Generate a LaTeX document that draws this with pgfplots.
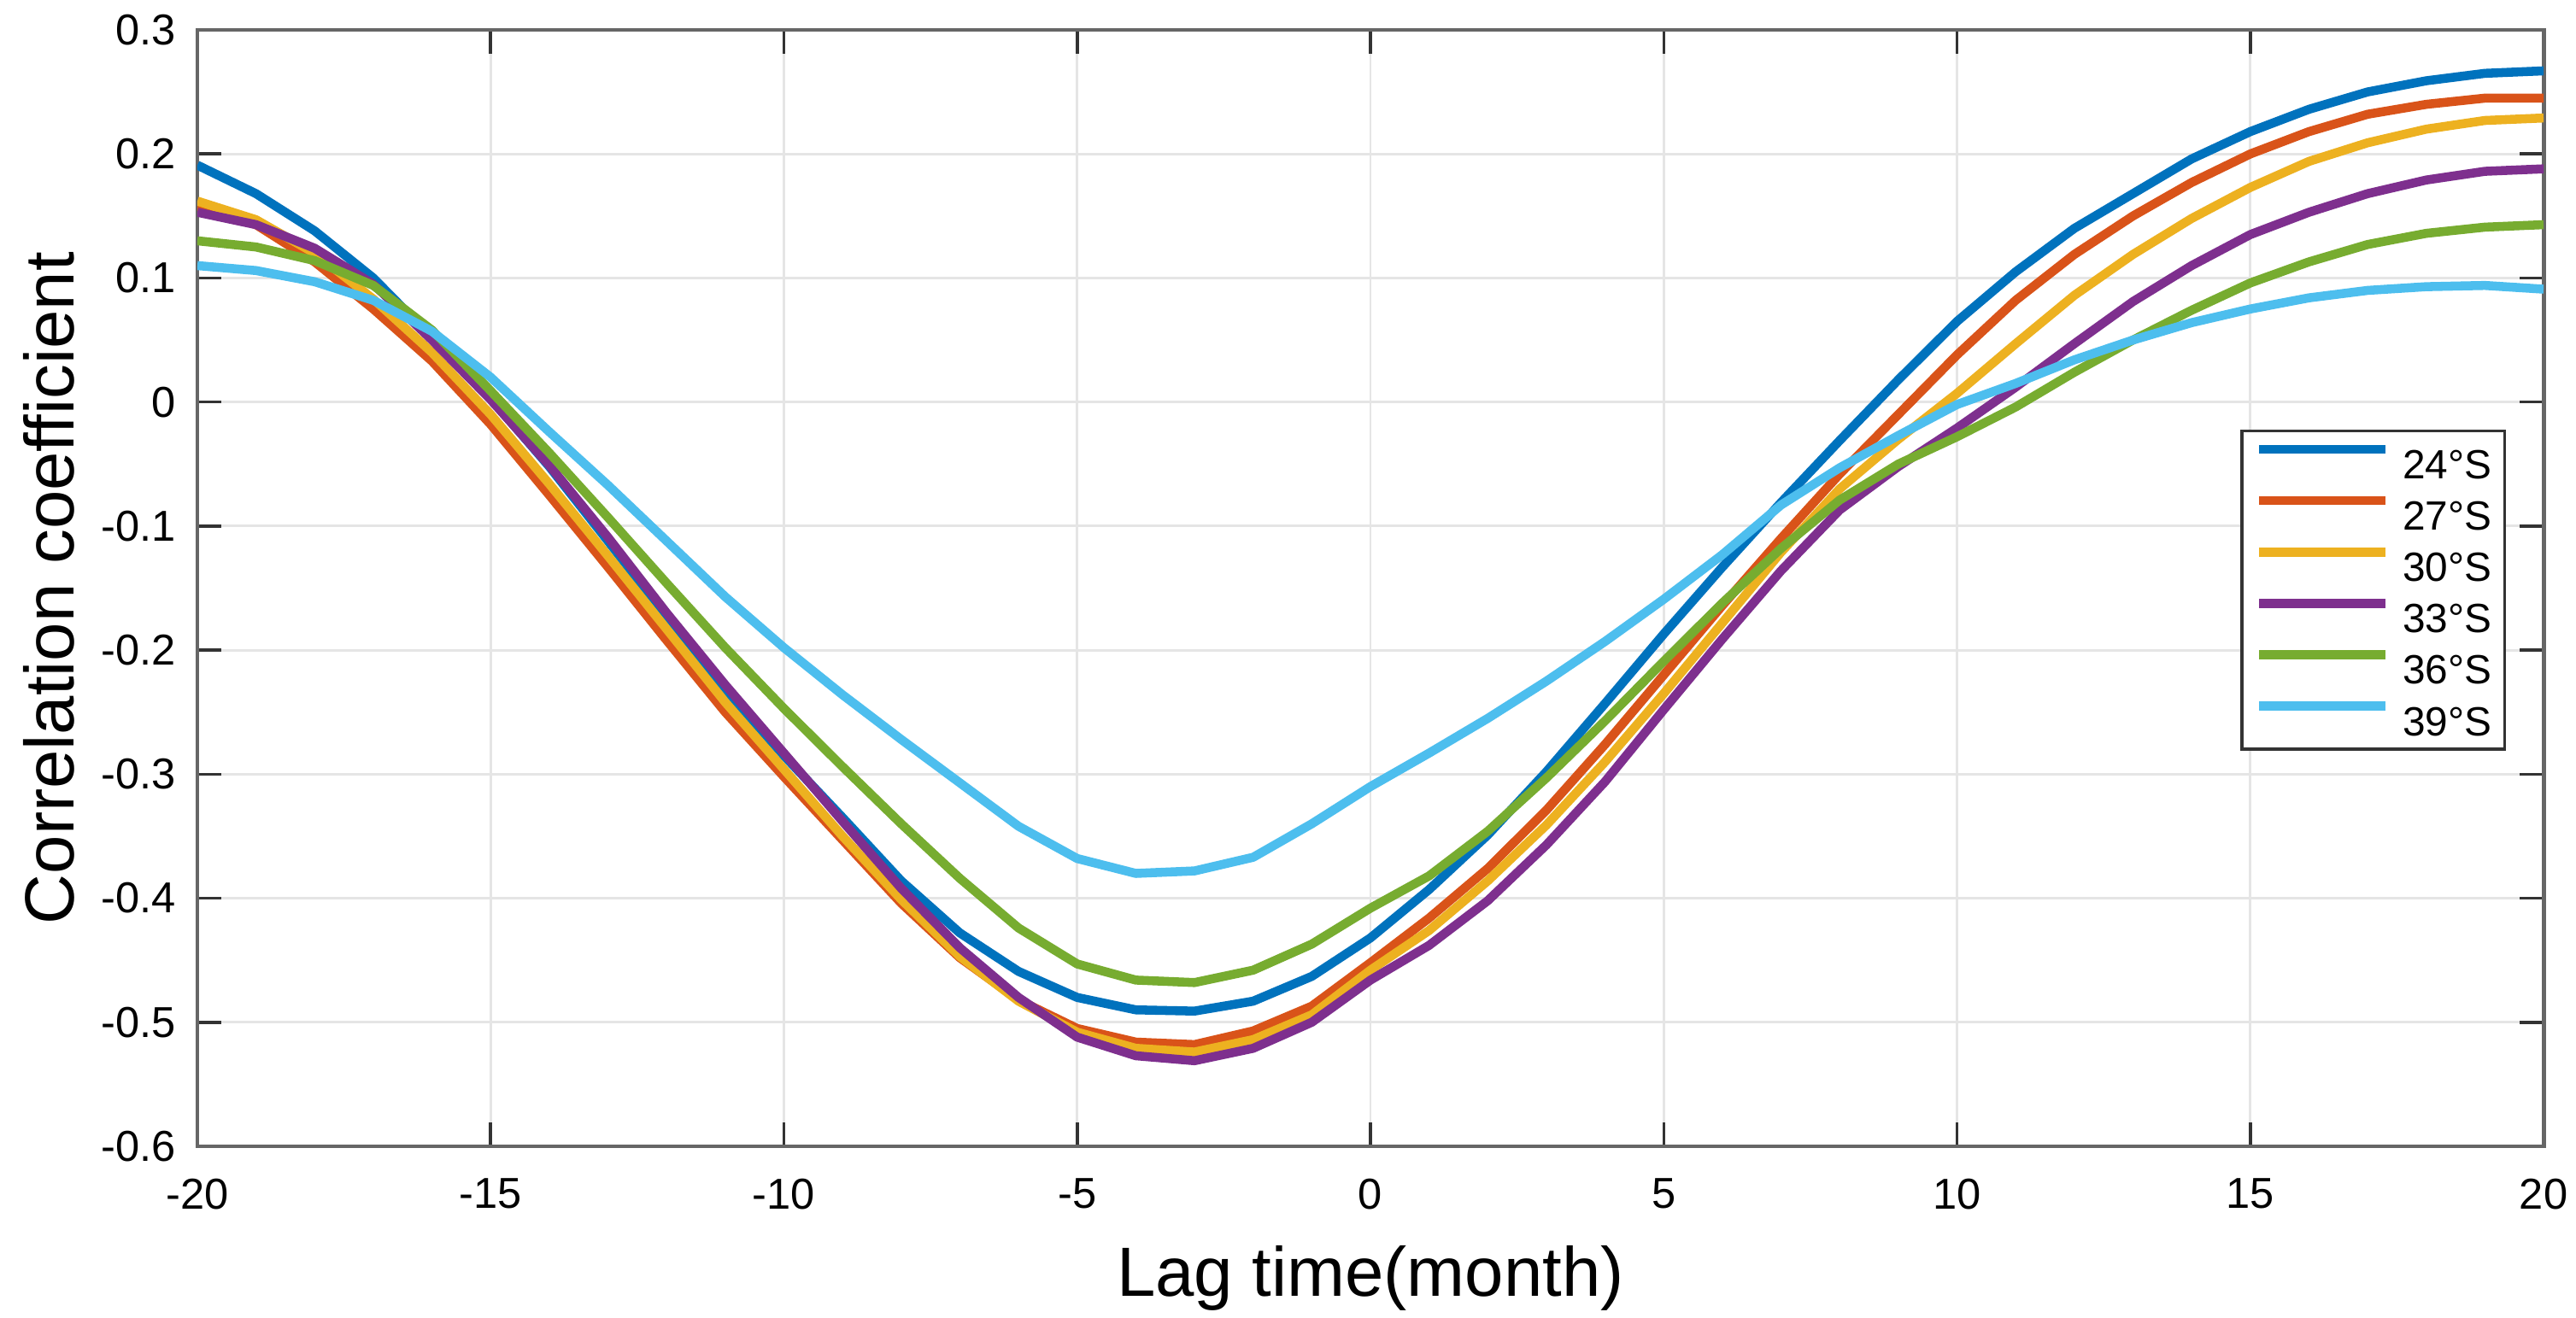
\documentclass[border=0pt]{standalone}
\usepackage{pgfplots}
\pgfplotsset{compat=1.18}
\usepackage{pgfplotstable}
\usepackage{fontspec}
\setmainfont{Liberation Sans}
\definecolor{c1}{RGB}{0,114,189}
\definecolor{c2}{RGB}{217,83,25}
\definecolor{c3}{RGB}{237,177,32}
\definecolor{c4}{RGB}{126,47,142}
\definecolor{c5}{RGB}{119,172,48}
\definecolor{c6}{RGB}{77,190,238}
\pgfplotstableread{
lag  s24    s27    s30    s33    s36    s39
-20 0.191 0.158 0.162 0.153 0.130 0.110
-19 0.168 0.143 0.147 0.143 0.125 0.106
-18 0.138 0.113 0.120 0.124 0.114 0.097
-17 0.100 0.075 0.083 0.095 0.094 0.082
-16 0.052 0.033 0.040 0.050 0.058 0.057
-15 0.003 -0.018 -0.010 0.002 0.009 0.020
-14 -0.052 -0.075 -0.066 -0.051 -0.041 -0.024
-13 -0.112 -0.133 -0.124 -0.109 -0.093 -0.067
-12 -0.173 -0.192 -0.183 -0.170 -0.146 -0.112
-11 -0.232 -0.250 -0.242 -0.228 -0.198 -0.157
-10 -0.285 -0.302 -0.296 -0.283 -0.247 -0.198
-9 -0.335 -0.353 -0.350 -0.338 -0.294 -0.236
-8 -0.386 -0.404 -0.401 -0.392 -0.340 -0.272
-7 -0.428 -0.448 -0.447 -0.440 -0.384 -0.307
-6 -0.459 -0.482 -0.483 -0.480 -0.424 -0.342
-5 -0.480 -0.505 -0.508 -0.512 -0.453 -0.368
-4 -0.490 -0.516 -0.521 -0.527 -0.466 -0.380
-3 -0.491 -0.518 -0.524 -0.531 -0.468 -0.378
-2 -0.483 -0.507 -0.514 -0.521 -0.458 -0.367
-1 -0.463 -0.487 -0.494 -0.500 -0.437 -0.340
0 -0.432 -0.452 -0.458 -0.466 -0.408 -0.310
1 -0.393 -0.416 -0.426 -0.438 -0.382 -0.283
2 -0.349 -0.376 -0.386 -0.402 -0.346 -0.255
3 -0.298 -0.329 -0.341 -0.357 -0.303 -0.225
4 -0.243 -0.276 -0.290 -0.306 -0.257 -0.193
5 -0.187 -0.220 -0.235 -0.248 -0.209 -0.159
6 -0.133 -0.164 -0.178 -0.191 -0.162 -0.123
7 -0.081 -0.110 -0.121 -0.136 -0.118 -0.083
8 -0.031 -0.058 -0.070 -0.087 -0.079 -0.053
9 0.018 -0.010 -0.030 -0.052 -0.050 -0.027
10 0.065 0.038 0.007 -0.021 -0.028 -0.002
11 0.105 0.082 0.047 0.012 -0.004 0.015
12 0.140 0.119 0.086 0.047 0.024 0.034
13 0.168 0.150 0.119 0.081 0.050 0.050
14 0.196 0.177 0.148 0.110 0.074 0.064
15 0.218 0.200 0.173 0.135 0.096 0.075
16 0.236 0.218 0.194 0.153 0.113 0.084
17 0.250 0.232 0.209 0.168 0.127 0.090
18 0.259 0.240 0.220 0.179 0.136 0.093
19 0.265 0.245 0.227 0.186 0.141 0.094
20 0.267 0.245 0.229 0.188 0.143 0.091
}\data
\begin{document}
\begin{tikzpicture}
\useasboundingbox (-1.155cm,-1.005cm) rectangle (13.92cm,6.71cm);
\begin{axis}[
  at={(0,0)}, anchor=south west,
  scale only axis,
  width=13.73cm, height=6.535cm,
  xmin=-20, xmax=20, ymin=-0.6, ymax=0.3,
  xtick={-20,-15,-10,-5,0,5,10,15,20},
  xticklabels={-20,-15,-10,-5,0,5,10,15,20},
  ytick={-0.6,-0.5,-0.4,-0.3,-0.2,-0.1,0,0.1,0.2,0.3},
  yticklabels={-0.6,-0.5,-0.4,-0.3,-0.2,-0.1,0,0.1,0.2,0.3},
  tick label style={font=\fontsize{7.2}{8}\selectfont, inner sep=0pt},
  xticklabel shift=5.2pt,
  yticklabel shift=3.4pt,
  tick align=inside,
  major tick length=4pt,
  tick style={black!80, line width=0.5pt},
  axis line style={black!60, line width=0.7pt},
  grid=major,
  major grid style={black!10, line width=0.4pt},
  xlabel={Lag time(month)},
  ylabel={Correlation coefficient},
  label style={font=\fontsize{11.6}{13}\selectfont, inner sep=0pt},
  xlabel style={at={(axis description cs:0.5,-0.0882)}, anchor=north},
  ylabel style={at={(axis description cs:-0.0517,0.5)}, anchor=south, rotate=0},
  legend cell align=left,
  legend style={at={(0.984,0.642)}, anchor=north east, draw=black!80,
    line width=0.5pt, inner xsep=2.1pt, inner ysep=2.3pt, row sep=2.9pt,
    nodes={inner sep=0pt, text height=4.9pt, text depth=0pt,
      font=\fontsize{6.8}{8}\selectfont}},
  legend image code/.code={\draw[#1] (0pt,2.45pt) -- (21pt,2.45pt);
    \path (23.2pt,2.45pt);},
  every axis plot/.append style={line width=1.5pt, line join=round},
]
\addplot[c1] table[x=lag,y=s24]{\data};
\addplot[c2] table[x=lag,y=s27]{\data};
\addplot[c3] table[x=lag,y=s30]{\data};
\addplot[c4] table[x=lag,y=s33]{\data};
\addplot[c5] table[x=lag,y=s36]{\data};
\addplot[c6] table[x=lag,y=s39]{\data};
\legend{24°S,27°S,30°S,33°S,36°S,39°S}
\end{axis}
\end{tikzpicture}
\end{document}
